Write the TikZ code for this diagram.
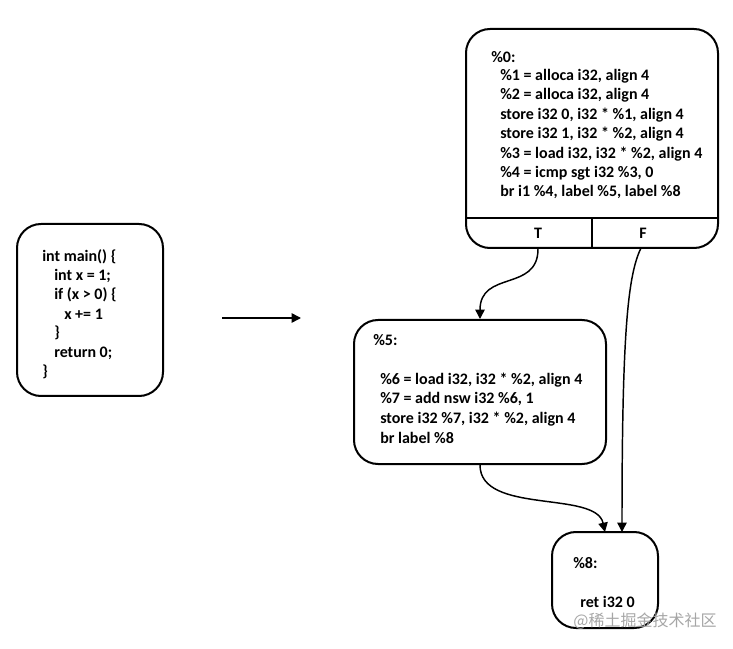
\documentclass[tikz,border=0pt]{standalone}
\usepackage{fontspec}
\setmainfont{Carlito}
\newfontfamily\cjk{Noto Sans CJK SC}
\usetikzlibrary{arrows.meta}
\tikzset{
    blk/.style={draw, line width=1.5pt, rounded corners=18pt, minimum width=#1, inner sep=0pt},
    code/.style={anchor=west, inner sep=0pt, font=\bfseries\fontsize{12}{14}\selectfont},
    flow/.style={line width=1.1pt, -{Triangle[width=7pt,length=7pt]}}
}
\begin{document}
\begin{tikzpicture}[x=0.75pt, y=-0.75pt]
    \useasboundingbox (0,0) rectangle (733,649);

    % source box
    \node[blk=109.5pt, minimum height=129pt] (src) at (90,310) {};
    \node[code] (s1) at (42,257) {int main() \{};
    \node[code] (s2) at (54,276) {int x = 1;};
    \node[code] (s3) at (54,295) {if (x > 0) \{};
    \node[code] (s4) at (64,314) {x += 1};
    \node[code] (s5) at (54,333) {\}};
    \node[code] (s6) at (54,353) {return 0;};
    \node[code] (s7) at (42,372) {\}};

    \coordinate (a1) at (222,318);
    \coordinate (a2) at (301,318);
    \draw[flow] (a1) -- (a2);

    % block %0
    \node[blk=189pt, minimum height=164.25pt] (b0) at (592,138.5) {};
    \draw[line width=1.5pt] (466,218) -- (718,218);
    \draw[line width=1.5pt] (592,218) -- (592,248);
    \node[code] (l0) at (491,57) {\%0:};
    \node[code] (l1) at (500,76) {\%1 = alloca i32, align 4};
    \node[code] (l2) at (500,95) {\%2 = alloca i32, align 4};
    \node[code] (l3) at (500,115) {store i32 0, i32 * \%1, align 4};
    \node[code] (l4) at (500,134) {store i32 1, i32 * \%2, align 4};
    \node[code] (l5) at (500,154) {\%3 = load i32, i32 * \%2, align 4};
    \node[code] (l6) at (500,173) {\%4 = icmp sgt i32 \%3, 0};
    \node[code] (l7) at (500,192) {br i1 \%4, label \%5, label \%8};
    \node[code, anchor=center] (T) at (538,233) {T};
    \node[code, anchor=center] (F) at (643,233) {F};

    % block %5
    \node[blk=189pt, minimum height=108pt] (b5) at (480,392) {};
    \node[code] (m0) at (373,340) {\%5:};
    \node[code] (m1) at (380,380) {\%6 = load i32, i32 * \%2, align 4};
    \node[code] (m2) at (380,399) {\%7 = add nsw i32 \%6, 1};
    \node[code] (m3) at (380,419) {store i32 \%7, i32 * \%2, align 4};
    \node[code] (m4) at (380,438) {br label \%8};

    % block %8
    \node[blk=79.5pt, minimum height=72pt] (b8) at (605,580) {};
    \node[code] (e0) at (573,563) {\%8:};
    \node[code] (e1) at (580,602) {ret i32 0};

    % edges
    \draw[flow] (T |- b0.south) .. controls (538,292) and (480,270) .. (b5.north);
    \draw[flow] (641,248) .. controls (628,275) and (622,330) .. (622,532);
    \draw[flow] (b5.south) .. controls (480,515) and (596,490) .. (605,532);

    \node[text=black!35, font=\cjk\fontsize{12}{14}\selectfont] (wm) at (645,621) {@稀土掘金技术社区};
\end{tikzpicture}
\end{document}
